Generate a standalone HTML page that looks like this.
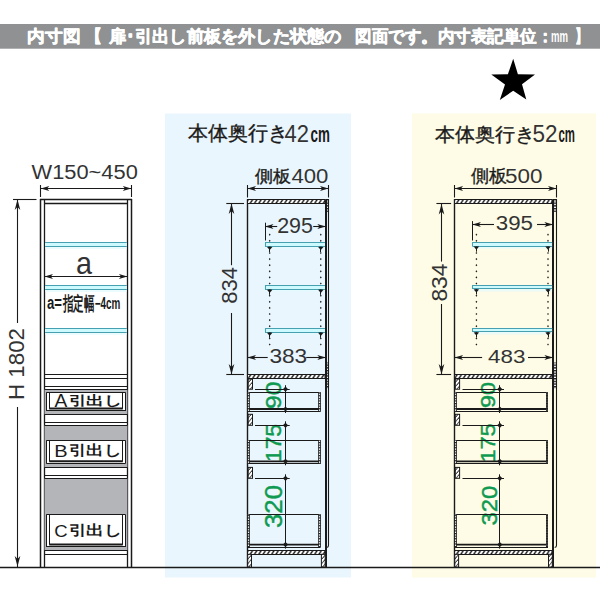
<!DOCTYPE html><html><head><meta charset="utf-8"><title>内寸図</title><style>
html,body{margin:0;padding:0;background:#fff;}
body{width:600px;height:600px;overflow:hidden;position:relative;font-family:"Liberation Sans",sans-serif;}
svg{position:absolute;left:0;top:0;display:block;font-family:"Liberation Sans",sans-serif;}
</style></head><body>
<svg width="600" height="600" viewBox="0 0 600 600">
<defs>
<pattern id="hat" patternUnits="userSpaceOnUse" width="4.3" height="8" patternTransform="skewX(-33)"><rect width="4.3" height="8" fill="#1a1a1a"/><rect x="0.4" width="2.6" height="8" fill="#fff"/></pattern>
<pattern id="hatv" patternUnits="userSpaceOnUse" width="8" height="4.4" patternTransform="skewY(-50)"><rect width="8" height="4.4" fill="#fff"/><rect y="0.4" width="8" height="1.2" fill="#1a1a1a"/></pattern>
<pattern id="dots" patternUnits="userSpaceOnUse" width="4" height="2.7"><rect width="4" height="2.7" fill="#fff"/><rect width="4" height="1.4" fill="#1a1a1a"/></pattern>
<pattern id="dash" patternUnits="userSpaceOnUse" width="4" height="2.6"><rect width="4" height="2.6" fill="#fff"/><rect width="4" height="1.2" fill="#1a1a1a"/></pattern>
</defs>
<rect x="165" y="113.5" width="186" height="464" fill="#eaf6fd" stroke="none" stroke-width="1.0" />
<rect x="412" y="113.5" width="184" height="464" fill="#fefce6" stroke="none" stroke-width="1.0" />
<rect x="0" y="24" width="600" height="24.7" fill="#8f9193" stroke="none" stroke-width="1.0" />
<text x="27.40" y="42.40" font-size="17.35" font-weight="bold" fill="#fff" stroke="#fff" stroke-width="0.6" stroke-linejoin="round" textLength="53.20" lengthAdjust="spacingAndGlyphs">内寸図</text>
<text x="85.40" y="42.40" font-size="17.35" font-weight="bold" fill="#fff" stroke="#fff" stroke-width="0.6" stroke-linejoin="round" textLength="17.20" lengthAdjust="spacingAndGlyphs">【</text>
<text x="108.60" y="42.40" font-size="17.35" font-weight="bold" fill="#fff" stroke="#fff" stroke-width="0.6" stroke-linejoin="round" textLength="232.80" lengthAdjust="spacingAndGlyphs">扉･引出し前板を外した状態の</text>
<text x="355.40" y="42.40" font-size="17.35" font-weight="bold" fill="#fff" stroke="#fff" stroke-width="0.6" stroke-linejoin="round" textLength="198.00" lengthAdjust="spacingAndGlyphs">図面です。内寸表記単位：</text>
<text x="551.00" y="42.40" font-size="15.95" font-weight="bold" fill="#fff" textLength="17.00" lengthAdjust="spacingAndGlyphs">mm</text>
<text x="575.00" y="42.40" font-size="17.35" font-weight="bold" fill="#fff" stroke="#fff" stroke-width="0.6" stroke-linejoin="round" textLength="13.00" lengthAdjust="spacingAndGlyphs">】</text>
<polygon points="513.2,58.8 517.9,74.2 535,74.6 522,84.2 526.3,99.6 513.2,90.8 499.8,100 505,84.6 491.3,74.6 507.9,74.2" fill="#000"/>
<text x="188.20" y="140.40" font-size="19.81" font-weight="normal" fill="#1a1a1a" stroke="#1a1a1a" stroke-width="0.35" stroke-linejoin="round" textLength="100.20" lengthAdjust="spacingAndGlyphs">本体奥行き</text>
<text x="284.60" y="141.60" font-size="23.40" font-weight="normal" fill="#333333" textLength="24.40" lengthAdjust="spacingAndGlyphs">42</text>
<text x="310.60" y="141.60" font-size="22.75" font-weight="bold" fill="#1a1a1a" textLength="19.40" lengthAdjust="spacingAndGlyphs">cm</text>
<text x="435.00" y="141.40" font-size="19.41" font-weight="normal" fill="#1a1a1a" stroke="#1a1a1a" stroke-width="0.35" stroke-linejoin="round" textLength="100.50" lengthAdjust="spacingAndGlyphs">本体奥行き</text>
<text x="532.50" y="141.60" font-size="23.40" font-weight="normal" fill="#333333" textLength="25.00" lengthAdjust="spacingAndGlyphs">52</text>
<text x="558.50" y="141.60" font-size="22.75" font-weight="bold" fill="#1a1a1a" textLength="16.50" lengthAdjust="spacingAndGlyphs">cm</text>
<text x="31.60" y="178.60" font-size="19.44" font-weight="normal" fill="#333333" textLength="106.20" lengthAdjust="spacingAndGlyphs">W150~450</text>
<line x1="40.5" y1="185" x2="40.5" y2="197" stroke="#1a1a1a" stroke-width="1.1" />
<line x1="131.5" y1="185" x2="131.5" y2="197" stroke="#1a1a1a" stroke-width="1.1" />
<line x1="40.8" y1="188.5" x2="131.3" y2="188.5" stroke="#1a1a1a" stroke-width="1.1" />
<path d="M40.8,188.5 L49.3,186 L47.1,188.5 L49.3,191 Z" fill="#1a1a1a"/>
<path d="M131.3,188.5 L122.8,191 L125,188.5 L122.8,186 Z" fill="#1a1a1a"/>
<line x1="13" y1="199.5" x2="36.5" y2="199.5" stroke="#1a1a1a" stroke-width="1.1" />
<line x1="17.5" y1="199.5" x2="17.5" y2="323" stroke="#1a1a1a" stroke-width="1.1" />
<line x1="17.5" y1="407" x2="17.5" y2="567" stroke="#1a1a1a" stroke-width="1.1" />
<path d="M17.5,199.6 L20.3,210.1 L17.5,207.1 L14.7,210.1 Z" fill="#1a1a1a"/>
<path d="M17.5,566.5 L14.7,556 L17.5,559 L20.3,556 Z" fill="#1a1a1a"/>
<text transform="translate(23.60 400.00) rotate(-90)" x="0" y="0" font-size="22.32" font-weight="normal" fill="#333333" textLength="72.00" lengthAdjust="spacingAndGlyphs">H 1802</text>
<line x1="40.5" y1="199" x2="40.5" y2="567" stroke="#1a1a1a" stroke-width="1.5" />
<line x1="44.5" y1="199.5" x2="44.5" y2="567" stroke="#1a1a1a" stroke-width="1.3" />
<line x1="127.5" y1="199.5" x2="127.5" y2="567" stroke="#1a1a1a" stroke-width="1.3" />
<line x1="131.5" y1="199" x2="131.5" y2="567" stroke="#1a1a1a" stroke-width="1.5" />
<line x1="40" y1="199.5" x2="132" y2="199.5" stroke="#1a1a1a" stroke-width="1.4" />
<line x1="44" y1="203.5" x2="128" y2="203.5" stroke="#1a1a1a" stroke-width="1.3" />
<rect x="45.1" y="242.5" width="81.7" height="4" fill="#cdfafe" stroke="none" stroke-width="1.0" />
<rect x="45.1" y="246.5" width="81.7" height="2.5" fill="#e2fbfe" stroke="none" stroke-width="1.0" opacity="0.7"/>
<line x1="45.1" y1="242.5" x2="126.8" y2="242.5" stroke="#46a0b0" stroke-width="1.1" />
<line x1="45.1" y1="246.5" x2="126.8" y2="246.5" stroke="#46a0b0" stroke-width="1.1" />
<rect x="45.1" y="285.5" width="81.7" height="4" fill="#cdfafe" stroke="none" stroke-width="1.0" />
<rect x="45.1" y="289.5" width="81.7" height="2.5" fill="#e2fbfe" stroke="none" stroke-width="1.0" opacity="0.7"/>
<line x1="45.1" y1="285.5" x2="126.8" y2="285.5" stroke="#46a0b0" stroke-width="1.1" />
<line x1="45.1" y1="289.5" x2="126.8" y2="289.5" stroke="#46a0b0" stroke-width="1.1" />
<rect x="45.1" y="328.4" width="81.7" height="4" fill="#cdfafe" stroke="none" stroke-width="1.0" />
<rect x="45.1" y="332.4" width="81.7" height="2.5" fill="#e2fbfe" stroke="none" stroke-width="1.0" opacity="0.7"/>
<line x1="45.1" y1="328.5" x2="126.8" y2="328.5" stroke="#46a0b0" stroke-width="1.1" />
<line x1="45.1" y1="332.5" x2="126.8" y2="332.5" stroke="#46a0b0" stroke-width="1.1" />
<text x="76.00" y="273.60" font-size="30.88" font-weight="normal" fill="#333333" textLength="16.00" lengthAdjust="spacingAndGlyphs">a</text>
<line x1="44.5" y1="276.5" x2="127.4" y2="276.5" stroke="#1a1a1a" stroke-width="1.1" />
<path d="M44.5,276.5 L53,274 L50.8,276.5 L53,279 Z" fill="#1a1a1a"/>
<path d="M127.4,276.5 L118.9,279 L121.1,276.5 L118.9,274 Z" fill="#1a1a1a"/>
<text x="47.00" y="309.40" font-size="17.54" font-weight="bold" fill="#1a1a1a" textLength="15.00" lengthAdjust="spacingAndGlyphs">a=</text>
<text x="62.80" y="309.80" font-size="18.62" font-weight="bold" fill="#1a1a1a" textLength="31.80" lengthAdjust="spacingAndGlyphs">指定幅</text>
<text x="94.80" y="309.40" font-size="15.72" font-weight="bold" fill="#1a1a1a" textLength="25.60" lengthAdjust="spacingAndGlyphs">−4cm</text>
<rect x="44.5" y="389.5" width="82.9" height="24.9" fill="#b4b5b8" stroke="none" stroke-width="1.0" />
<rect x="44.5" y="425.2" width="82.9" height="42.3" fill="#b4b5b8" stroke="none" stroke-width="1.0" />
<rect x="44.5" y="478.3" width="82.9" height="72" fill="#b4b5b8" stroke="none" stroke-width="1.0" />
<line x1="44.5" y1="374.5" x2="127.4" y2="374.5" stroke="#1a1a1a" stroke-width="1.2" />
<line x1="44.5" y1="378.5" x2="127.4" y2="378.5" stroke="#1a1a1a" stroke-width="1.2" />
<line x1="44.5" y1="386.5" x2="127.4" y2="386.5" stroke="#1a1a1a" stroke-width="1.2" />
<line x1="44.5" y1="389.5" x2="127.4" y2="389.5" stroke="#1a1a1a" stroke-width="1.2" />
<line x1="44.5" y1="414.5" x2="127.4" y2="414.5" stroke="#1a1a1a" stroke-width="1.2" />
<line x1="44.5" y1="422.5" x2="127.4" y2="422.5" stroke="#1a1a1a" stroke-width="1.2" />
<line x1="44.5" y1="425.5" x2="127.4" y2="425.5" stroke="#1a1a1a" stroke-width="1.2" />
<line x1="44.5" y1="467.5" x2="127.4" y2="467.5" stroke="#1a1a1a" stroke-width="1.2" />
<line x1="44.5" y1="475.5" x2="127.4" y2="475.5" stroke="#1a1a1a" stroke-width="1.2" />
<line x1="44.5" y1="478.5" x2="127.4" y2="478.5" stroke="#1a1a1a" stroke-width="1.2" />
<line x1="44.5" y1="550.5" x2="127.4" y2="550.5" stroke="#1a1a1a" stroke-width="1.2" />
<line x1="44.5" y1="554.5" x2="127.4" y2="554.5" stroke="#1a1a1a" stroke-width="1.2" />
<rect x="46.4" y="392.3" width="78.9" height="18.7" fill="#fff" stroke="none" stroke-width="1.0" />
<line x1="46.4" y1="392.5" x2="125.3" y2="392.5" stroke="#1a1a1a" stroke-width="1.1" />
<line x1="46.5" y1="392.3" x2="46.5" y2="411" stroke="#1a1a1a" stroke-width="1.0" />
<line x1="49.5" y1="392.3" x2="49.5" y2="408.7" stroke="#1a1a1a" stroke-width="1.0" />
<line x1="125.5" y1="392.3" x2="125.5" y2="411" stroke="#1a1a1a" stroke-width="1.0" />
<line x1="122.5" y1="392.3" x2="122.5" y2="408.7" stroke="#1a1a1a" stroke-width="1.0" />
<line x1="49.2" y1="408.6" x2="122.8" y2="408.6" stroke="#1a1a1a" stroke-width="2.0" />
<line x1="46.4" y1="410.5" x2="125.3" y2="410.5" stroke="#1a1a1a" stroke-width="1.0" />
<text x="54.40" y="406.60" font-size="17.64" font-weight="normal" fill="#1a1a1a" textLength="12.80" lengthAdjust="spacingAndGlyphs">A</text>
<text x="68.60" y="405.20" font-size="13.34" font-weight="bold" fill="#1a1a1a" textLength="53.40" lengthAdjust="spacingAndGlyphs">引出し</text>
<rect x="46.4" y="440.3" width="78.9" height="23.3" fill="#fff" stroke="none" stroke-width="1.0" />
<line x1="46.4" y1="440.5" x2="125.3" y2="440.5" stroke="#1a1a1a" stroke-width="1.1" />
<line x1="46.5" y1="440.3" x2="46.5" y2="463.6" stroke="#1a1a1a" stroke-width="1.0" />
<line x1="49.5" y1="440.3" x2="49.5" y2="461.3" stroke="#1a1a1a" stroke-width="1.0" />
<line x1="125.5" y1="440.3" x2="125.5" y2="463.6" stroke="#1a1a1a" stroke-width="1.0" />
<line x1="122.5" y1="440.3" x2="122.5" y2="461.3" stroke="#1a1a1a" stroke-width="1.0" />
<line x1="49.2" y1="461.2" x2="122.8" y2="461.2" stroke="#1a1a1a" stroke-width="2.0" />
<line x1="46.4" y1="463.5" x2="125.3" y2="463.5" stroke="#1a1a1a" stroke-width="1.0" />
<text x="54.20" y="456.60" font-size="16.67" font-weight="normal" fill="#1a1a1a" textLength="13.40" lengthAdjust="spacingAndGlyphs">B</text>
<text x="68.60" y="455.20" font-size="14.07" font-weight="bold" fill="#1a1a1a" textLength="52.60" lengthAdjust="spacingAndGlyphs">引出し</text>
<rect x="46.4" y="514.4" width="78.9" height="32.6" fill="#fff" stroke="none" stroke-width="1.0" />
<line x1="46.4" y1="514.5" x2="125.3" y2="514.5" stroke="#1a1a1a" stroke-width="1.1" />
<line x1="46.5" y1="514.4" x2="46.5" y2="547" stroke="#1a1a1a" stroke-width="1.0" />
<line x1="49.5" y1="514.4" x2="49.5" y2="544.7" stroke="#1a1a1a" stroke-width="1.0" />
<line x1="125.5" y1="514.4" x2="125.5" y2="547" stroke="#1a1a1a" stroke-width="1.0" />
<line x1="122.5" y1="514.4" x2="122.5" y2="544.7" stroke="#1a1a1a" stroke-width="1.0" />
<line x1="49.2" y1="544.6" x2="122.8" y2="544.6" stroke="#1a1a1a" stroke-width="2.0" />
<line x1="46.4" y1="546.5" x2="125.3" y2="546.5" stroke="#1a1a1a" stroke-width="1.0" />
<text x="54.20" y="536.60" font-size="16.67" font-weight="normal" fill="#1a1a1a" textLength="13.40" lengthAdjust="spacingAndGlyphs">C</text>
<text x="68.60" y="535.20" font-size="14.07" font-weight="bold" fill="#1a1a1a" textLength="53.40" lengthAdjust="spacingAndGlyphs">引出し</text>
<line x1="0" y1="567.5" x2="600" y2="567.5" stroke="#1a1a1a" stroke-width="1.3" />
<line x1="247.5" y1="199.3" x2="247.5" y2="567" stroke="#1a1a1a" stroke-width="1.4" />
<rect x="325" y="199.3" width="2" height="367.7" fill="#1a1a1a"/>
<path d="M328.5,199.3 L328.5,545.5 Q328.5,547.2 326.7,547.5" fill="none" stroke="#1a1a1a" stroke-width="1.1"/>
<rect x="327" y="200.5" width="1" height="11.5" fill="url(#dots)" stroke="none" stroke-width="1.0" />
<rect x="327" y="362.5" width="1" height="26.5" fill="url(#dots)" stroke="none" stroke-width="1.0" />
<rect x="247.5" y="199.5" width="77.5" height="4" fill="url(#hat)" stroke="#1a1a1a" stroke-width="1.0"/>
<line x1="326" y1="199.5" x2="329" y2="199.5" stroke="#1a1a1a" stroke-width="1.0" />
<line x1="247.5" y1="185" x2="247.5" y2="197.5" stroke="#1a1a1a" stroke-width="1.1" />
<line x1="328.5" y1="185" x2="328.5" y2="197.5" stroke="#1a1a1a" stroke-width="1.1" />
<line x1="247.5" y1="188.5" x2="328.5" y2="188.5" stroke="#1a1a1a" stroke-width="1.1" />
<path d="M247.5,188.5 L256,186 L253.8,188.5 L256,191 Z" fill="#1a1a1a"/>
<path d="M328.5,188.5 L320,191 L322.2,188.5 L320,186 Z" fill="#1a1a1a"/>
<text x="255.00" y="181.60" font-size="16.50" font-weight="normal" fill="#1a1a1a" stroke="#1a1a1a" stroke-width="0.35" stroke-linejoin="round" textLength="36.00" lengthAdjust="spacingAndGlyphs">側板</text>
<text x="291.40" y="183.40" font-size="19.44" font-weight="normal" fill="#333333" textLength="37.00" lengthAdjust="spacingAndGlyphs">400</text>
<line x1="226.3" y1="203.5" x2="244" y2="203.5" stroke="#1a1a1a" stroke-width="1.1" />
<line x1="226.3" y1="374.5" x2="244" y2="374.5" stroke="#1a1a1a" stroke-width="1.1" />
<line x1="231.5" y1="203.5" x2="231.5" y2="265.2" stroke="#1a1a1a" stroke-width="1.1" />
<line x1="231.5" y1="313" x2="231.5" y2="374.6" stroke="#1a1a1a" stroke-width="1.1" />
<path d="M231.5,203.5 L234.3,214 L231.5,211 L228.7,214 Z" fill="#1a1a1a"/>
<path d="M231.5,374.6 L228.7,364.1 L231.5,367.1 L234.3,364.1 Z" fill="#1a1a1a"/>
<text transform="translate(237.00 303.80) rotate(-90)" x="0" y="0" font-size="22.32" font-weight="normal" fill="#333333" textLength="36.80" lengthAdjust="spacingAndGlyphs">834</text>
<rect x="265" y="242.5" width="60" height="4" fill="#cdfafe" stroke="none" stroke-width="1.0" />
<line x1="265.5" y1="242.5" x2="265.5" y2="246.5" stroke="#46a0b0" stroke-width="1.1" />
<rect x="265" y="246.5" width="60" height="2.5" fill="#e2fbfe" stroke="none" stroke-width="1.0" opacity="0.7"/>
<line x1="265" y1="242.5" x2="325" y2="242.5" stroke="#46a0b0" stroke-width="1.1" />
<line x1="265" y1="246.5" x2="325" y2="246.5" stroke="#46a0b0" stroke-width="1.1" />
<path d="M267,246.9 Q269.7,246.1 272.4,246.9 L269.7,250.1 Z" fill="#1a1a1a"/>
<line x1="269.5" y1="247.1" x2="269.5" y2="252" stroke="#1a1a1a" stroke-width="1.0" />
<path d="M318.1,246.9 Q320.8,246.1 323.5,246.9 L320.8,250.1 Z" fill="#1a1a1a"/>
<line x1="320.5" y1="247.1" x2="320.5" y2="252" stroke="#1a1a1a" stroke-width="1.0" />
<rect x="265" y="285.3" width="60" height="4" fill="#cdfafe" stroke="none" stroke-width="1.0" />
<line x1="265.5" y1="285.3" x2="265.5" y2="289.3" stroke="#46a0b0" stroke-width="1.1" />
<rect x="265" y="289.3" width="60" height="2.5" fill="#e2fbfe" stroke="none" stroke-width="1.0" opacity="0.7"/>
<line x1="265" y1="285.5" x2="325" y2="285.5" stroke="#46a0b0" stroke-width="1.1" />
<line x1="265" y1="289.5" x2="325" y2="289.5" stroke="#46a0b0" stroke-width="1.1" />
<path d="M267,289.7 Q269.7,288.9 272.4,289.7 L269.7,292.9 Z" fill="#1a1a1a"/>
<line x1="269.5" y1="289.9" x2="269.5" y2="294.8" stroke="#1a1a1a" stroke-width="1.0" />
<path d="M318.1,289.7 Q320.8,288.9 323.5,289.7 L320.8,292.9 Z" fill="#1a1a1a"/>
<line x1="320.5" y1="289.9" x2="320.5" y2="294.8" stroke="#1a1a1a" stroke-width="1.0" />
<rect x="265" y="328.3" width="60" height="4" fill="#cdfafe" stroke="none" stroke-width="1.0" />
<line x1="265.5" y1="328.3" x2="265.5" y2="332.3" stroke="#46a0b0" stroke-width="1.1" />
<rect x="265" y="332.3" width="60" height="2.5" fill="#e2fbfe" stroke="none" stroke-width="1.0" opacity="0.7"/>
<line x1="265" y1="328.5" x2="325" y2="328.5" stroke="#46a0b0" stroke-width="1.1" />
<line x1="265" y1="332.5" x2="325" y2="332.5" stroke="#46a0b0" stroke-width="1.1" />
<path d="M267,332.7 Q269.7,331.9 272.4,332.7 L269.7,335.9 Z" fill="#1a1a1a"/>
<line x1="269.5" y1="332.9" x2="269.5" y2="337.8" stroke="#1a1a1a" stroke-width="1.0" />
<path d="M318.1,332.7 Q320.8,331.9 323.5,332.7 L320.8,335.9 Z" fill="#1a1a1a"/>
<line x1="320.5" y1="332.9" x2="320.5" y2="337.8" stroke="#1a1a1a" stroke-width="1.0" />
<path d="M269.7,233.6 L270.6,234.7 L269.7,235.8 L268.8,234.7 Z" fill="#1a1a1a"/>
<path d="M269.7,239.7 L270.6,240.8 L269.7,241.9 L268.8,240.8 Z" fill="#1a1a1a"/>
<path d="M269.7,251.9 L270.6,253 L269.7,254.1 L268.8,253 Z" fill="#1a1a1a"/>
<path d="M269.7,258 L270.6,259.1 L269.7,260.2 L268.8,259.1 Z" fill="#1a1a1a"/>
<path d="M269.7,264.1 L270.6,265.2 L269.7,266.3 L268.8,265.2 Z" fill="#1a1a1a"/>
<path d="M269.7,270.2 L270.6,271.3 L269.7,272.4 L268.8,271.3 Z" fill="#1a1a1a"/>
<path d="M269.7,276.3 L270.6,277.4 L269.7,278.5 L268.8,277.4 Z" fill="#1a1a1a"/>
<path d="M269.7,282.4 L270.6,283.5 L269.7,284.6 L268.8,283.5 Z" fill="#1a1a1a"/>
<path d="M269.7,294.6 L270.6,295.7 L269.7,296.8 L268.8,295.7 Z" fill="#1a1a1a"/>
<path d="M269.7,300.7 L270.6,301.8 L269.7,302.9 L268.8,301.8 Z" fill="#1a1a1a"/>
<path d="M269.7,306.8 L270.6,307.9 L269.7,309 L268.8,307.9 Z" fill="#1a1a1a"/>
<path d="M269.7,312.9 L270.6,314 L269.7,315.1 L268.8,314 Z" fill="#1a1a1a"/>
<path d="M269.7,319 L270.6,320.1 L269.7,321.2 L268.8,320.1 Z" fill="#1a1a1a"/>
<path d="M269.7,325.1 L270.6,326.2 L269.7,327.3 L268.8,326.2 Z" fill="#1a1a1a"/>
<path d="M269.7,337.3 L270.6,338.4 L269.7,339.5 L268.8,338.4 Z" fill="#1a1a1a"/>
<path d="M269.7,343.4 L270.6,344.5 L269.7,345.6 L268.8,344.5 Z" fill="#1a1a1a"/>
<path d="M320.8,233.6 L321.7,234.7 L320.8,235.8 L319.9,234.7 Z" fill="#1a1a1a"/>
<path d="M320.8,239.7 L321.7,240.8 L320.8,241.9 L319.9,240.8 Z" fill="#1a1a1a"/>
<path d="M320.8,251.9 L321.7,253 L320.8,254.1 L319.9,253 Z" fill="#1a1a1a"/>
<path d="M320.8,258 L321.7,259.1 L320.8,260.2 L319.9,259.1 Z" fill="#1a1a1a"/>
<path d="M320.8,264.1 L321.7,265.2 L320.8,266.3 L319.9,265.2 Z" fill="#1a1a1a"/>
<path d="M320.8,270.2 L321.7,271.3 L320.8,272.4 L319.9,271.3 Z" fill="#1a1a1a"/>
<path d="M320.8,276.3 L321.7,277.4 L320.8,278.5 L319.9,277.4 Z" fill="#1a1a1a"/>
<path d="M320.8,282.4 L321.7,283.5 L320.8,284.6 L319.9,283.5 Z" fill="#1a1a1a"/>
<path d="M320.8,294.6 L321.7,295.7 L320.8,296.8 L319.9,295.7 Z" fill="#1a1a1a"/>
<path d="M320.8,300.7 L321.7,301.8 L320.8,302.9 L319.9,301.8 Z" fill="#1a1a1a"/>
<path d="M320.8,306.8 L321.7,307.9 L320.8,309 L319.9,307.9 Z" fill="#1a1a1a"/>
<path d="M320.8,312.9 L321.7,314 L320.8,315.1 L319.9,314 Z" fill="#1a1a1a"/>
<path d="M320.8,319 L321.7,320.1 L320.8,321.2 L319.9,320.1 Z" fill="#1a1a1a"/>
<path d="M320.8,325.1 L321.7,326.2 L320.8,327.3 L319.9,326.2 Z" fill="#1a1a1a"/>
<path d="M320.8,337.3 L321.7,338.4 L320.8,339.5 L319.9,338.4 Z" fill="#1a1a1a"/>
<path d="M320.8,343.4 L321.7,344.5 L320.8,345.6 L319.9,344.5 Z" fill="#1a1a1a"/>
<line x1="265.5" y1="222.7" x2="265.5" y2="240.5" stroke="#1a1a1a" stroke-width="1.0" />
<line x1="265" y1="226.5" x2="277.2" y2="226.5" stroke="#1a1a1a" stroke-width="1.1" />
<line x1="313.2" y1="226.5" x2="325.8" y2="226.5" stroke="#1a1a1a" stroke-width="1.1" />
<path d="M265,226.5 L273.5,224 L271.3,226.5 L273.5,229 Z" fill="#1a1a1a"/>
<path d="M325.8,226.5 L317.3,229 L319.5,226.5 L317.3,224 Z" fill="#1a1a1a"/>
<text x="277.20" y="233.40" font-size="21.91" font-weight="normal" fill="#333333" textLength="35.80" lengthAdjust="spacingAndGlyphs">295</text>
<line x1="247.5" y1="357.5" x2="267.7" y2="357.5" stroke="#1a1a1a" stroke-width="1.1" />
<line x1="306.2" y1="357.5" x2="325.8" y2="357.5" stroke="#1a1a1a" stroke-width="1.1" />
<path d="M247.5,357.5 L256,355 L253.8,357.5 L256,360 Z" fill="#1a1a1a"/>
<path d="M325.8,357.5 L317.3,360 L319.5,357.5 L317.3,355 Z" fill="#1a1a1a"/>
<text x="269.40" y="363.20" font-size="20.41" font-weight="normal" fill="#333333" textLength="37.80" lengthAdjust="spacingAndGlyphs">383</text>
<rect x="247.5" y="374.5" width="77.5" height="4" fill="url(#hat)" stroke="#1a1a1a" stroke-width="1.0"/>
<text transform="translate(281.00 409.00) rotate(-90)" x="0" y="0" font-size="22.32" font-weight="normal" fill="#0f9a52" stroke="#0f9a52" stroke-width="0.45" stroke-linejoin="round" textLength="27.40" lengthAdjust="spacingAndGlyphs">90</text>
<text transform="translate(281.00 462.00) rotate(-90)" x="0" y="0" font-size="22.32" font-weight="normal" fill="#0f9a52" stroke="#0f9a52" stroke-width="0.45" stroke-linejoin="round" textLength="38.00" lengthAdjust="spacingAndGlyphs">175</text>
<text transform="translate(282.00 528.00) rotate(-90)" x="0" y="0" font-size="24.46" font-weight="normal" fill="#0f9a52" stroke="#0f9a52" stroke-width="0.45" stroke-linejoin="round" textLength="43.00" lengthAdjust="spacingAndGlyphs">320</text>
<rect x="248.2" y="379" width="4.3" height="10.2" fill="url(#hatv)" stroke="#1a1a1a" stroke-width="1"/>
<line x1="255" y1="389.5" x2="289.7" y2="389.5" stroke="#1a1a1a" stroke-width="1.0" />
<line x1="248" y1="392.5" x2="320.6" y2="392.5" stroke="#1a1a1a" stroke-width="1.2" />
<line x1="248" y1="409" x2="320.6" y2="409" stroke="#1a1a1a" stroke-width="1.8" />
<line x1="248" y1="411.5" x2="320.6" y2="411.5" stroke="#1a1a1a" stroke-width="1.0" />
<rect x="247.6" y="392.4" width="1.8" height="18.9" fill="url(#dash)" stroke="none" stroke-width="1.0" />
<line x1="247.5" y1="392.4" x2="247.5" y2="411.3" stroke="#1a1a1a" stroke-width="0.8" />
<line x1="249.5" y1="392.4" x2="249.5" y2="411.3" stroke="#1a1a1a" stroke-width="0.8" />
<rect x="318.7" y="392.4" width="1.8" height="18.9" fill="url(#dash)" stroke="none" stroke-width="1.0" />
<line x1="318.5" y1="392.4" x2="318.5" y2="411.3" stroke="#1a1a1a" stroke-width="0.8" />
<line x1="320.5" y1="392.4" x2="320.5" y2="411.3" stroke="#1a1a1a" stroke-width="0.8" />
<line x1="285.5" y1="385.2" x2="285.5" y2="413" stroke="#1a1a1a" stroke-width="1.0" />
<path d="M282.9,389.2 L285.5,386.6 L288.1,389.2 L285.5,391.8 Z" fill="#1a1a1a"/>
<path d="M282.9,409 L285.5,406.4 L288.1,409 L285.5,411.6 Z" fill="#1a1a1a"/>
<rect x="248.2" y="414.3" width="4.3" height="11" fill="url(#hatv)" stroke="#1a1a1a" stroke-width="1"/>
<line x1="255" y1="425.5" x2="289.7" y2="425.5" stroke="#1a1a1a" stroke-width="1.0" />
<line x1="248" y1="440.5" x2="320.6" y2="440.5" stroke="#1a1a1a" stroke-width="1.2" />
<line x1="248" y1="461.3" x2="320.6" y2="461.3" stroke="#1a1a1a" stroke-width="1.8" />
<line x1="248" y1="463.5" x2="320.6" y2="463.5" stroke="#1a1a1a" stroke-width="1.0" />
<rect x="247.6" y="440.3" width="1.8" height="23.4" fill="url(#dash)" stroke="none" stroke-width="1.0" />
<line x1="247.5" y1="440.3" x2="247.5" y2="463.7" stroke="#1a1a1a" stroke-width="0.8" />
<line x1="249.5" y1="440.3" x2="249.5" y2="463.7" stroke="#1a1a1a" stroke-width="0.8" />
<rect x="318.7" y="440.3" width="1.8" height="23.4" fill="url(#dash)" stroke="none" stroke-width="1.0" />
<line x1="318.5" y1="440.3" x2="318.5" y2="463.7" stroke="#1a1a1a" stroke-width="0.8" />
<line x1="320.5" y1="440.3" x2="320.5" y2="463.7" stroke="#1a1a1a" stroke-width="0.8" />
<line x1="285.5" y1="421.3" x2="285.5" y2="465.3" stroke="#1a1a1a" stroke-width="1.0" />
<path d="M282.9,425.3 L285.5,422.7 L288.1,425.3 L285.5,427.9 Z" fill="#1a1a1a"/>
<path d="M282.9,461.3 L285.5,458.7 L288.1,461.3 L285.5,463.9 Z" fill="#1a1a1a"/>
<rect x="248.2" y="467.4" width="4.3" height="10.9" fill="url(#hatv)" stroke="#1a1a1a" stroke-width="1"/>
<line x1="255" y1="478.5" x2="289.7" y2="478.5" stroke="#1a1a1a" stroke-width="1.0" />
<line x1="248" y1="514.5" x2="320.6" y2="514.5" stroke="#1a1a1a" stroke-width="1.2" />
<line x1="248" y1="544.6" x2="320.6" y2="544.6" stroke="#1a1a1a" stroke-width="1.8" />
<line x1="248" y1="547.5" x2="320.6" y2="547.5" stroke="#1a1a1a" stroke-width="1.0" />
<rect x="247.6" y="514.6" width="1.8" height="32.4" fill="url(#dash)" stroke="none" stroke-width="1.0" />
<line x1="247.5" y1="514.6" x2="247.5" y2="547" stroke="#1a1a1a" stroke-width="0.8" />
<line x1="249.5" y1="514.6" x2="249.5" y2="547" stroke="#1a1a1a" stroke-width="0.8" />
<rect x="318.7" y="514.6" width="1.8" height="32.4" fill="url(#dash)" stroke="none" stroke-width="1.0" />
<line x1="318.5" y1="514.6" x2="318.5" y2="547" stroke="#1a1a1a" stroke-width="0.8" />
<line x1="320.5" y1="514.6" x2="320.5" y2="547" stroke="#1a1a1a" stroke-width="0.8" />
<line x1="285.5" y1="474.3" x2="285.5" y2="548.6" stroke="#1a1a1a" stroke-width="1.0" />
<path d="M282.9,478.3 L285.5,475.7 L288.1,478.3 L285.5,480.9 Z" fill="#1a1a1a"/>
<path d="M282.9,544.6 L285.5,542 L288.1,544.6 L285.5,547.2 Z" fill="#1a1a1a"/>
<rect x="247.5" y="550.5" width="77.5" height="4" fill="url(#hat)" stroke="#1a1a1a" stroke-width="1.0"/>
<rect x="247.7" y="554.3" width="3.8" height="12.7" fill="url(#hatv)" stroke="#1a1a1a" stroke-width="1"/>
<rect x="321.4" y="554.3" width="3.8" height="12.7" fill="url(#hatv)" stroke="#1a1a1a" stroke-width="1"/>
<line x1="454.5" y1="199.3" x2="454.5" y2="567" stroke="#1a1a1a" stroke-width="1.4" />
<rect x="552" y="199.3" width="2" height="367.7" fill="#1a1a1a"/>
<path d="M556.5,199.3 L556.5,545.5 Q556.5,547.2 554.7,547.5" fill="none" stroke="#1a1a1a" stroke-width="1.1"/>
<rect x="554" y="200.5" width="2" height="11.5" fill="url(#dots)" stroke="none" stroke-width="1.0" />
<rect x="554" y="362.5" width="2" height="26.5" fill="url(#dots)" stroke="none" stroke-width="1.0" />
<rect x="454.6" y="199.5" width="97.4" height="4" fill="url(#hat)" stroke="#1a1a1a" stroke-width="1.0"/>
<line x1="553" y1="199.5" x2="557" y2="199.5" stroke="#1a1a1a" stroke-width="1.0" />
<line x1="454.5" y1="185" x2="454.5" y2="197.5" stroke="#1a1a1a" stroke-width="1.1" />
<line x1="556.5" y1="185" x2="556.5" y2="197.5" stroke="#1a1a1a" stroke-width="1.1" />
<line x1="454.6" y1="188.5" x2="556.5" y2="188.5" stroke="#1a1a1a" stroke-width="1.1" />
<path d="M454.6,188.5 L463.1,186 L460.9,188.5 L463.1,191 Z" fill="#1a1a1a"/>
<path d="M556.5,188.5 L548,191 L550.2,188.5 L548,186 Z" fill="#1a1a1a"/>
<text x="470.60" y="181.60" font-size="17.52" font-weight="normal" fill="#1a1a1a" stroke="#1a1a1a" stroke-width="0.35" stroke-linejoin="round" textLength="36.00" lengthAdjust="spacingAndGlyphs">側板</text>
<text x="505.00" y="183.40" font-size="19.44" font-weight="normal" fill="#333333" textLength="37.40" lengthAdjust="spacingAndGlyphs">500</text>
<line x1="436.4" y1="203.5" x2="451.1" y2="203.5" stroke="#1a1a1a" stroke-width="1.1" />
<line x1="436.4" y1="374.5" x2="451.1" y2="374.5" stroke="#1a1a1a" stroke-width="1.1" />
<line x1="441.5" y1="203.9" x2="441.5" y2="261.6" stroke="#1a1a1a" stroke-width="1.1" />
<line x1="441.5" y1="304" x2="441.5" y2="374.6" stroke="#1a1a1a" stroke-width="1.1" />
<path d="M441.5,203.9 L444.3,214.4 L441.5,211.4 L438.7,214.4 Z" fill="#1a1a1a"/>
<path d="M441.5,374.6 L438.7,364.1 L441.5,367.1 L444.3,364.1 Z" fill="#1a1a1a"/>
<text transform="translate(446.80 301.60) rotate(-90)" x="0" y="0" font-size="21.34" font-weight="normal" fill="#333333" textLength="38.00" lengthAdjust="spacingAndGlyphs">834</text>
<rect x="472.4" y="242.2" width="79.7" height="4" fill="#cdfafe" stroke="none" stroke-width="1.0" />
<line x1="472.5" y1="242.2" x2="472.5" y2="246.2" stroke="#46a0b0" stroke-width="1.1" />
<rect x="472.4" y="246.2" width="79.7" height="2.5" fill="#e2fbfe" stroke="none" stroke-width="1.0" opacity="0.7"/>
<line x1="472.4" y1="242.5" x2="552.1" y2="242.5" stroke="#46a0b0" stroke-width="1.1" />
<line x1="472.4" y1="246.5" x2="552.1" y2="246.5" stroke="#46a0b0" stroke-width="1.1" />
<path d="M473.7,246.6 Q476.4,245.8 479.1,246.6 L476.4,249.8 Z" fill="#1a1a1a"/>
<line x1="476.5" y1="246.8" x2="476.5" y2="251.7" stroke="#1a1a1a" stroke-width="1.0" />
<path d="M545.3,246.6 Q548,245.8 550.7,246.6 L548,249.8 Z" fill="#1a1a1a"/>
<line x1="548.5" y1="246.8" x2="548.5" y2="251.7" stroke="#1a1a1a" stroke-width="1.0" />
<rect x="472.4" y="285" width="79.7" height="4" fill="#cdfafe" stroke="none" stroke-width="1.0" />
<line x1="472.5" y1="285" x2="472.5" y2="289" stroke="#46a0b0" stroke-width="1.1" />
<rect x="472.4" y="289" width="79.7" height="2.5" fill="#e2fbfe" stroke="none" stroke-width="1.0" opacity="0.7"/>
<line x1="472.4" y1="285.5" x2="552.1" y2="285.5" stroke="#46a0b0" stroke-width="1.1" />
<line x1="472.4" y1="288.5" x2="552.1" y2="288.5" stroke="#46a0b0" stroke-width="1.1" />
<path d="M473.7,289.4 Q476.4,288.6 479.1,289.4 L476.4,292.6 Z" fill="#1a1a1a"/>
<line x1="476.5" y1="289.6" x2="476.5" y2="294.5" stroke="#1a1a1a" stroke-width="1.0" />
<path d="M545.3,289.4 Q548,288.6 550.7,289.4 L548,292.6 Z" fill="#1a1a1a"/>
<line x1="548.5" y1="289.6" x2="548.5" y2="294.5" stroke="#1a1a1a" stroke-width="1.0" />
<rect x="472.4" y="328" width="79.7" height="4" fill="#cdfafe" stroke="none" stroke-width="1.0" />
<line x1="472.5" y1="328" x2="472.5" y2="332" stroke="#46a0b0" stroke-width="1.1" />
<rect x="472.4" y="332" width="79.7" height="2.5" fill="#e2fbfe" stroke="none" stroke-width="1.0" opacity="0.7"/>
<line x1="472.4" y1="328.5" x2="552.1" y2="328.5" stroke="#46a0b0" stroke-width="1.1" />
<line x1="472.4" y1="331.5" x2="552.1" y2="331.5" stroke="#46a0b0" stroke-width="1.1" />
<path d="M473.7,332.4 Q476.4,331.6 479.1,332.4 L476.4,335.6 Z" fill="#1a1a1a"/>
<line x1="476.5" y1="332.6" x2="476.5" y2="337.5" stroke="#1a1a1a" stroke-width="1.0" />
<path d="M545.3,332.4 Q548,331.6 550.7,332.4 L548,335.6 Z" fill="#1a1a1a"/>
<line x1="548.5" y1="332.6" x2="548.5" y2="337.5" stroke="#1a1a1a" stroke-width="1.0" />
<path d="M476.4,233.6 L477.3,234.7 L476.4,235.8 L475.5,234.7 Z" fill="#1a1a1a"/>
<path d="M476.4,239.7 L477.3,240.8 L476.4,241.9 L475.5,240.8 Z" fill="#1a1a1a"/>
<path d="M476.4,251.9 L477.3,253 L476.4,254.1 L475.5,253 Z" fill="#1a1a1a"/>
<path d="M476.4,258 L477.3,259.1 L476.4,260.2 L475.5,259.1 Z" fill="#1a1a1a"/>
<path d="M476.4,264.1 L477.3,265.2 L476.4,266.3 L475.5,265.2 Z" fill="#1a1a1a"/>
<path d="M476.4,270.2 L477.3,271.3 L476.4,272.4 L475.5,271.3 Z" fill="#1a1a1a"/>
<path d="M476.4,276.3 L477.3,277.4 L476.4,278.5 L475.5,277.4 Z" fill="#1a1a1a"/>
<path d="M476.4,282.4 L477.3,283.5 L476.4,284.6 L475.5,283.5 Z" fill="#1a1a1a"/>
<path d="M476.4,294.6 L477.3,295.7 L476.4,296.8 L475.5,295.7 Z" fill="#1a1a1a"/>
<path d="M476.4,300.7 L477.3,301.8 L476.4,302.9 L475.5,301.8 Z" fill="#1a1a1a"/>
<path d="M476.4,306.8 L477.3,307.9 L476.4,309 L475.5,307.9 Z" fill="#1a1a1a"/>
<path d="M476.4,312.9 L477.3,314 L476.4,315.1 L475.5,314 Z" fill="#1a1a1a"/>
<path d="M476.4,319 L477.3,320.1 L476.4,321.2 L475.5,320.1 Z" fill="#1a1a1a"/>
<path d="M476.4,325.1 L477.3,326.2 L476.4,327.3 L475.5,326.2 Z" fill="#1a1a1a"/>
<path d="M476.4,337.3 L477.3,338.4 L476.4,339.5 L475.5,338.4 Z" fill="#1a1a1a"/>
<path d="M476.4,343.4 L477.3,344.5 L476.4,345.6 L475.5,344.5 Z" fill="#1a1a1a"/>
<path d="M548,233.6 L548.9,234.7 L548,235.8 L547.1,234.7 Z" fill="#1a1a1a"/>
<path d="M548,239.7 L548.9,240.8 L548,241.9 L547.1,240.8 Z" fill="#1a1a1a"/>
<path d="M548,251.9 L548.9,253 L548,254.1 L547.1,253 Z" fill="#1a1a1a"/>
<path d="M548,258 L548.9,259.1 L548,260.2 L547.1,259.1 Z" fill="#1a1a1a"/>
<path d="M548,264.1 L548.9,265.2 L548,266.3 L547.1,265.2 Z" fill="#1a1a1a"/>
<path d="M548,270.2 L548.9,271.3 L548,272.4 L547.1,271.3 Z" fill="#1a1a1a"/>
<path d="M548,276.3 L548.9,277.4 L548,278.5 L547.1,277.4 Z" fill="#1a1a1a"/>
<path d="M548,282.4 L548.9,283.5 L548,284.6 L547.1,283.5 Z" fill="#1a1a1a"/>
<path d="M548,294.6 L548.9,295.7 L548,296.8 L547.1,295.7 Z" fill="#1a1a1a"/>
<path d="M548,300.7 L548.9,301.8 L548,302.9 L547.1,301.8 Z" fill="#1a1a1a"/>
<path d="M548,306.8 L548.9,307.9 L548,309 L547.1,307.9 Z" fill="#1a1a1a"/>
<path d="M548,312.9 L548.9,314 L548,315.1 L547.1,314 Z" fill="#1a1a1a"/>
<path d="M548,319 L548.9,320.1 L548,321.2 L547.1,320.1 Z" fill="#1a1a1a"/>
<path d="M548,325.1 L548.9,326.2 L548,327.3 L547.1,326.2 Z" fill="#1a1a1a"/>
<path d="M548,337.3 L548.9,338.4 L548,339.5 L547.1,338.4 Z" fill="#1a1a1a"/>
<path d="M548,343.4 L548.9,344.5 L548,345.6 L547.1,344.5 Z" fill="#1a1a1a"/>
<line x1="472.5" y1="221.1" x2="472.5" y2="240.5" stroke="#1a1a1a" stroke-width="1.0" />
<line x1="472.4" y1="224.5" x2="494" y2="224.5" stroke="#1a1a1a" stroke-width="1.1" />
<line x1="537" y1="224.5" x2="552.9" y2="224.5" stroke="#1a1a1a" stroke-width="1.1" />
<path d="M472.4,224.5 L480.9,222 L478.7,224.5 L480.9,227 Z" fill="#1a1a1a"/>
<path d="M552.9,224.5 L544.4,227 L546.6,224.5 L544.4,222 Z" fill="#1a1a1a"/>
<text x="495.80" y="230.20" font-size="20.63" font-weight="normal" fill="#333333" textLength="37.20" lengthAdjust="spacingAndGlyphs">395</text>
<line x1="454.6" y1="357.5" x2="482.1" y2="357.5" stroke="#1a1a1a" stroke-width="1.1" />
<line x1="528" y1="357.5" x2="552.9" y2="357.5" stroke="#1a1a1a" stroke-width="1.1" />
<path d="M454.6,357.5 L463.1,355 L460.9,357.5 L463.1,360 Z" fill="#1a1a1a"/>
<path d="M552.9,357.5 L544.4,360 L546.6,357.5 L544.4,355 Z" fill="#1a1a1a"/>
<text x="488.00" y="363.40" font-size="19.07" font-weight="normal" fill="#333333" textLength="37.40" lengthAdjust="spacingAndGlyphs">483</text>
<rect x="454.6" y="374.5" width="97.4" height="4" fill="url(#hat)" stroke="#1a1a1a" stroke-width="1.0"/>
<text transform="translate(495.40 408.00) rotate(-90)" x="0" y="0" font-size="20.76" font-weight="normal" fill="#0f9a52" stroke="#0f9a52" stroke-width="0.45" stroke-linejoin="round" textLength="26.00" lengthAdjust="spacingAndGlyphs">90</text>
<text transform="translate(495.40 462.60) rotate(-90)" x="0" y="0" font-size="20.17" font-weight="normal" fill="#0f9a52" stroke="#0f9a52" stroke-width="0.45" stroke-linejoin="round" textLength="39.20" lengthAdjust="spacingAndGlyphs">175</text>
<text transform="translate(497.00 525.40) rotate(-90)" x="0" y="0" font-size="21.54" font-weight="normal" fill="#0f9a52" stroke="#0f9a52" stroke-width="0.45" stroke-linejoin="round" textLength="39.80" lengthAdjust="spacingAndGlyphs">320</text>
<rect x="455.3" y="379" width="4.3" height="10.2" fill="url(#hatv)" stroke="#1a1a1a" stroke-width="1"/>
<line x1="462.5" y1="389.5" x2="504" y2="389.5" stroke="#1a1a1a" stroke-width="1.0" />
<line x1="455.1" y1="392.5" x2="548" y2="392.5" stroke="#1a1a1a" stroke-width="1.2" />
<line x1="455.1" y1="409" x2="548" y2="409" stroke="#1a1a1a" stroke-width="1.8" />
<line x1="455.1" y1="411.5" x2="548" y2="411.5" stroke="#1a1a1a" stroke-width="1.0" />
<rect x="454.7" y="392.4" width="1.8" height="18.9" fill="url(#dash)" stroke="none" stroke-width="1.0" />
<line x1="454.5" y1="392.4" x2="454.5" y2="411.3" stroke="#1a1a1a" stroke-width="0.8" />
<line x1="456.5" y1="392.4" x2="456.5" y2="411.3" stroke="#1a1a1a" stroke-width="0.8" />
<rect x="546.1" y="392.4" width="1.8" height="18.9" fill="url(#dash)" stroke="none" stroke-width="1.0" />
<line x1="546.5" y1="392.4" x2="546.5" y2="411.3" stroke="#1a1a1a" stroke-width="0.8" />
<line x1="547.5" y1="392.4" x2="547.5" y2="411.3" stroke="#1a1a1a" stroke-width="0.8" />
<line x1="499.5" y1="385.2" x2="499.5" y2="413" stroke="#1a1a1a" stroke-width="1.0" />
<path d="M497.2,389.2 L499.8,386.6 L502.4,389.2 L499.8,391.8 Z" fill="#1a1a1a"/>
<path d="M497.2,409 L499.8,406.4 L502.4,409 L499.8,411.6 Z" fill="#1a1a1a"/>
<rect x="455.3" y="414.3" width="4.3" height="11" fill="url(#hatv)" stroke="#1a1a1a" stroke-width="1"/>
<line x1="462.5" y1="425.5" x2="504" y2="425.5" stroke="#1a1a1a" stroke-width="1.0" />
<line x1="455.1" y1="440.5" x2="548" y2="440.5" stroke="#1a1a1a" stroke-width="1.2" />
<line x1="455.1" y1="461.3" x2="548" y2="461.3" stroke="#1a1a1a" stroke-width="1.8" />
<line x1="455.1" y1="463.5" x2="548" y2="463.5" stroke="#1a1a1a" stroke-width="1.0" />
<rect x="454.7" y="440.3" width="1.8" height="23.4" fill="url(#dash)" stroke="none" stroke-width="1.0" />
<line x1="454.5" y1="440.3" x2="454.5" y2="463.7" stroke="#1a1a1a" stroke-width="0.8" />
<line x1="456.5" y1="440.3" x2="456.5" y2="463.7" stroke="#1a1a1a" stroke-width="0.8" />
<rect x="546.1" y="440.3" width="1.8" height="23.4" fill="url(#dash)" stroke="none" stroke-width="1.0" />
<line x1="546.5" y1="440.3" x2="546.5" y2="463.7" stroke="#1a1a1a" stroke-width="0.8" />
<line x1="547.5" y1="440.3" x2="547.5" y2="463.7" stroke="#1a1a1a" stroke-width="0.8" />
<line x1="499.5" y1="421.3" x2="499.5" y2="465.3" stroke="#1a1a1a" stroke-width="1.0" />
<path d="M497.2,425.3 L499.8,422.7 L502.4,425.3 L499.8,427.9 Z" fill="#1a1a1a"/>
<path d="M497.2,461.3 L499.8,458.7 L502.4,461.3 L499.8,463.9 Z" fill="#1a1a1a"/>
<rect x="455.3" y="467.4" width="4.3" height="10.9" fill="url(#hatv)" stroke="#1a1a1a" stroke-width="1"/>
<line x1="462.5" y1="478.5" x2="504" y2="478.5" stroke="#1a1a1a" stroke-width="1.0" />
<line x1="455.1" y1="514.5" x2="548" y2="514.5" stroke="#1a1a1a" stroke-width="1.2" />
<line x1="455.1" y1="544.6" x2="548" y2="544.6" stroke="#1a1a1a" stroke-width="1.8" />
<line x1="455.1" y1="547.5" x2="548" y2="547.5" stroke="#1a1a1a" stroke-width="1.0" />
<rect x="454.7" y="514.6" width="1.8" height="32.4" fill="url(#dash)" stroke="none" stroke-width="1.0" />
<line x1="454.5" y1="514.6" x2="454.5" y2="547" stroke="#1a1a1a" stroke-width="0.8" />
<line x1="456.5" y1="514.6" x2="456.5" y2="547" stroke="#1a1a1a" stroke-width="0.8" />
<rect x="546.1" y="514.6" width="1.8" height="32.4" fill="url(#dash)" stroke="none" stroke-width="1.0" />
<line x1="546.5" y1="514.6" x2="546.5" y2="547" stroke="#1a1a1a" stroke-width="0.8" />
<line x1="547.5" y1="514.6" x2="547.5" y2="547" stroke="#1a1a1a" stroke-width="0.8" />
<line x1="499.5" y1="474.3" x2="499.5" y2="548.6" stroke="#1a1a1a" stroke-width="1.0" />
<path d="M497.2,478.3 L499.8,475.7 L502.4,478.3 L499.8,480.9 Z" fill="#1a1a1a"/>
<path d="M497.2,544.6 L499.8,542 L502.4,544.6 L499.8,547.2 Z" fill="#1a1a1a"/>
<rect x="454.6" y="550.5" width="97.4" height="4" fill="url(#hat)" stroke="#1a1a1a" stroke-width="1.0"/>
<rect x="454.8" y="554.3" width="3.8" height="12.7" fill="url(#hatv)" stroke="#1a1a1a" stroke-width="1"/>
<rect x="548.5" y="554.3" width="3.8" height="12.7" fill="url(#hatv)" stroke="#1a1a1a" stroke-width="1"/>
</svg></body></html>
